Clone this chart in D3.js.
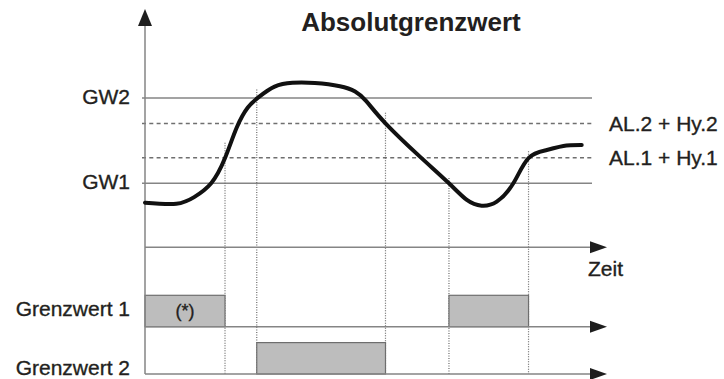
<!DOCTYPE html>
<html>
<head>
<meta charset="utf-8">
<script src="https://cdn.jsdelivr.net/npm/d3@7"></script>
<style>
	body { margin: 0; background: #fff; }
	svg { display: block; font-family: 'Liberation Sans', Arial, sans-serif; }
	.label { font-size: 21px; fill: #231f20; stroke: #231f20; stroke-width: 0.35px; }
	.title { font-size: 26px; font-weight: bold; fill: #231f20; }
</style>
</head>
<body>
<div class="graphic"></div>
<script>
// curve samples: time (arbitrary units) / measured value
const curveTime = [0, 7, 11, 14.8, 17.9, 20.5, 23, 25.5, 29, 33, 38, 43.6, 47.0, 49.5, 53.8, 61.5, 68.0, 72.0, 75.3, 78.7, 82.4, 85.8, 89.9, 93.6, 97.7]
const curveValue = [30.9, 30.4, 33.5, 40, 51.8, 66.0, 75.5, 80.5, 85.3, 87.1, 87.0, 85.5, 83.0, 78.5, 68.1, 52.5, 40, 32.2, 29.5, 31.4, 40, 51.8, 55.6, 57.5, 57.9]

// threshold levels
const levelNames = ['GW2', 'AL.2 + Hy.2', 'AL.1 + Hy.1', 'GW1']
const levelValues = [80, 68, 52, 40]
const levelDashed = [false, true, true, false]
const levelLabelLeft = [true, false, false, true]

// switching instants and the level crossed there
const eventTime = [17.9, 25.0, 53.8, 68.0, 85.8]
const eventLevel = [52, 80, 68, 40, 52]
const eventGap = [7, 4, 5, 2.5, 3]

// relay on-periods
const relay1On = [[0, 17.9], [68.0, 85.8]]
const relay2On = [[25.0, 53.8]]
const relayNames = ['Grenzwert 1', 'Grenzwert 2']

const width = 724
const height = 379
const x0 = 145
const xEnd = 592
const xArrow = 607
const laneTime = 247.3
const laneY = [326.7, 374]
const barH = 31.4
const grey = '#858585'
const dark = '#1e1e1e'

const x = d3.scaleLinear().domain([0, 100]).range([x0, xEnd])
const y = d3.scaleLinear().domain([0, 120]).range([268.6, 12.6])

function arrowRight(g, yy) {
	g.append('path')
		.attr('d', `M${xArrow},${yy} L${xArrow - 17},${yy - 6} L${xArrow - 17},${yy + 6} Z`)
		.attr('fill', dark)
}

function draw() {
	const svg = d3.select('.graphic').append('svg')
		.attr('width', width)
		.attr('height', height)

	const g = svg.append('g')

	// threshold lines
	levelValues.forEach((v, i) => {
		g.append('line')
			.attr('x1', x0 - 3).attr('x2', xEnd)
			.attr('y1', y(v)).attr('y2', y(v))
			.attr('stroke', levelDashed[i] ? '#6f6f6f' : grey)
			.attr('stroke-width', 1.5)
			.attr('stroke-dasharray', levelDashed[i] ? '4,3.3' : null)

		if (levelLabelLeft[i]) {
			g.append('text').attr('class', 'label')
				.attr('x', 130).attr('y', y(v) + 6)
				.attr('text-anchor', 'end')
				.text(levelNames[i])
		} else {
			g.append('text').attr('class', 'label')
				.attr('x', 609).attr('y', y(v) + 7)
				.text(levelNames[i])
		}
	})

	// dotted event lines
	eventTime.forEach((t, i) => {
		g.append('line')
			.attr('x1', x(t)).attr('x2', x(t))
			.attr('y1', y(eventLevel[i] + eventGap[i])).attr('y2', laneY[1])
			.attr('stroke', '#6a6a6a')
			.attr('stroke-width', 1.2)
			.attr('stroke-dasharray', '1,1.5')
	})

	// relay bars
	const bars = [relay1On, relay2On]
	bars.forEach((periods, k) => {
		g.selectAll(null)
			.data(periods)
			.enter().append('rect')
				.attr('x', d => x(d[0]))
				.attr('y', laneY[k] - barH)
				.attr('width', d => x(d[1]) - x(d[0]))
				.attr('height', barH)
				.attr('fill', '#bdbdbd')
				.attr('stroke', '#6e6e6e')
				.attr('stroke-width', 1.2)

		g.append('text').attr('class', 'label')
			.attr('x', 130).attr('y', k === 0 ? 316 : 375)
			.attr('text-anchor', 'end')
			.text(relayNames[k])
	})

	g.append('text').attr('class', 'label')
		.attr('x', x(relay1On[0][0] + (relay1On[0][1] - relay1On[0][0]) / 2))
		.attr('y', laneY[0] - 10)
		.attr('text-anchor', 'middle')
		.style('font-size', '18px')
		.text('(*)')

	// horizontal axes
	;[laneTime, laneY[0], laneY[1]].forEach(yy => {
		g.append('line')
			.attr('x1', x0).attr('x2', xArrow - 10)
			.attr('y1', yy).attr('y2', yy)
			.attr('stroke', grey)
			.attr('stroke-width', 1.5)
		arrowRight(g, yy)
	})

	// vertical axis
	g.append('line')
		.attr('x1', x0).attr('x2', x0)
		.attr('y1', 20).attr('y2', laneY[1])
		.attr('stroke', grey)
		.attr('stroke-width', 1.5)
	g.append('path')
		.attr('d', `M${x0},9 L${x0 - 7},26 L${x0 + 7},26 Z`)
		.attr('fill', dark)

	// measured curve
	const pts = curveTime.map((t, i) => [t, curveValue[i]])
	const line = d3.line()
		.x(d => x(d[0]))
		.y(d => y(d[1]))
		.curve(d3.curveNatural)

	g.append('path')
		.datum(pts)
		.attr('d', line)
		.attr('fill', 'none')
		.attr('stroke', '#111')
		.attr('stroke-width', 4)
		.attr('stroke-linecap', 'round')

	g.append('text').attr('class', 'label')
		.attr('x', 588).attr('y', 276)
		.text('Zeit')

	g.append('text').attr('class', 'title')
		.attr('x', 411).attr('y', 30.5)
		.attr('text-anchor', 'middle')
		.text('Absolutgrenzwert')
}

draw()
</script>
</body>
</html>
